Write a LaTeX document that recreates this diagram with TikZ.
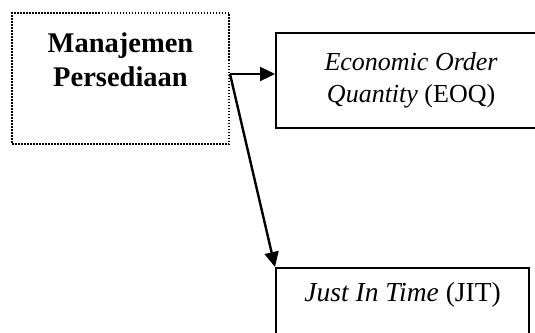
\documentclass[tikz,border=0pt]{standalone}
\usepackage{fontspec}
\setmainfont{Liberation Serif}
\usetikzlibrary{arrows.meta,positioning}
\tikzset{kotak/.style={draw, line width=2.2pt, anchor=north west, inner sep=0pt}}
\tikzset{titik/.style={draw, line width=2pt, dash pattern=on 1.5pt off 1.5pt, anchor=north west, inner sep=0pt}}
\tikzset{teks/.style={font=\fontsize{26}{32}\selectfont, align=center, inner sep=0pt}}

\begin{document}
\begin{tikzpicture} [x=1pt, y=-1pt, >={Triangle[length=15pt,width=14pt]}]
\useasboundingbox (0,0) rectangle (535,332);
\clip (0,0) rectangle (535,332);
\node[titik, minimum width=217pt, minimum height=131pt] (mp) at (11,12) {};
\node[teks, font=\fontsize{28.5}{34}\selectfont\bfseries, below=21pt of mp.north] (mptext) {Manajemen\\Persediaan};
\node[kotak, minimum width=270pt, minimum height=95pt, teks] (eoq) at (275,32) {\textit{Economic Order}\\\textit{Quantity} (EOQ)};
\node[kotak, minimum width=253pt, minimum height=90pt] (jit) at (275,267) {};
\node[teks, font=\fontsize{27.5}{32}\selectfont, below=15pt of jit.north] (jittext) {\textit{Just In Time} (JIT)};
\coordinate (pangkal) at ([yshift=4.5pt]mp.east);
\draw[line width=2.4pt,->] (pangkal) -- (pangkal -| eoq.west);
\draw[line width=2.4pt,->] (pangkal) -- (jit.north west);
\end{tikzpicture}
\end{document}
